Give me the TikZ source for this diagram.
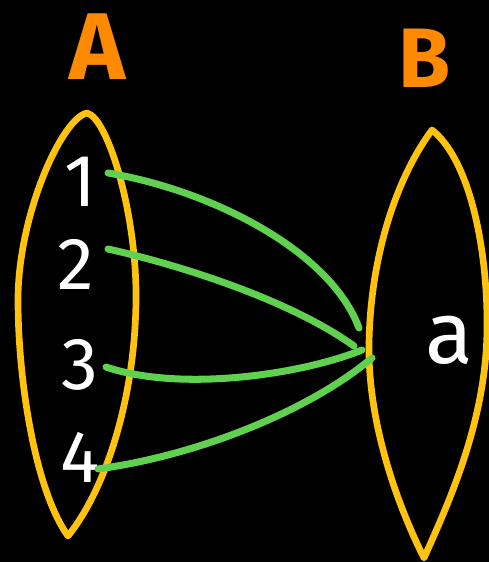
\documentclass[tikz,border=0pt]{standalone}
\usepackage{fontspec}
\setsansfont{Fira Sans}
\definecolor{setline}{HTML}{FFC20E}
\definecolor{setname}{HTML}{FF8A00}
\definecolor{maparrow}{HTML}{5FD14F}

\begin{document}
\begin{tikzpicture}
    [x=0.02cm, y=-0.02cm,
    setbox/.style={draw=setline, line width=3.8pt, line join=round},
    setlabel/.style={text=setname, font=\sffamily\bfseries\fontsize{54}{54}\selectfont},
    elem/.style={text=white, font=\sffamily\fontsize{42}{42}\selectfont},
    link/.style={draw=maparrow, line width=4pt, line cap=round}]
        %% background and frame
        \fill[black] (0,0) rectangle (489,562);
        \useasboundingbox (0,0) rectangle (489,562);

        %% set A
        \draw[setbox] (87,113) .. controls (108,118) and (137,215) .. (136,300)
            .. controls (135,400) and (105,490) .. (68,536)
            .. controls (35,490) and (18,380) .. (18,300)
            .. controls (18,215) and (62,118) .. (87,113) -- cycle;
        %% set B
        \draw[setbox] (432,130) .. controls (470,160) and (488,250) .. (487,330)
            .. controls (486,420) and (450,500) .. (424,558)
            .. controls (395,500) and (368,420) .. (369,345)
            .. controls (370,260) and (395,180) .. (432,130) -- cycle;

        \node[setlabel] (A) at (97,47) {A};
        \node[setlabel, font=\sffamily\bfseries\fontsize{48}{48}\selectfont] (B) at (425,58) {B};

        \node[elem] (n1) at (80,182) {1};
        \node[elem] (n2) at (76,264) {2};
        \node[elem] (n3) at (80,365) {3};
        \node[elem] (n4) at (80,457) {4};
        \node[elem, font=\sffamily\fontsize{50}{50}\selectfont] (a) at (449,340) {a};

        %% where the lines meet B
        \coordinate (h1) at (359,328);
        \coordinate (h2) at (354,346);
        \coordinate (h3) at (362,350);
        \coordinate (h4) at (372,358);

        \draw[link] ([shift={(28,-9)}]n1.center) .. controls (210,190) and (330,250) .. (h1);
        \draw[link] ([shift={(32,-15)}]n2.center) .. controls (180,265) and (290,300) .. (h2);
        \draw[link] ([shift={(26,2)}]n3.center) .. controls (180,392) and (300,375) .. (h3);
        \draw[link] ([shift={(18,12)}]n4.center) .. controls (200,455) and (310,410) .. (h4);
    \end{tikzpicture}
\end{document}
